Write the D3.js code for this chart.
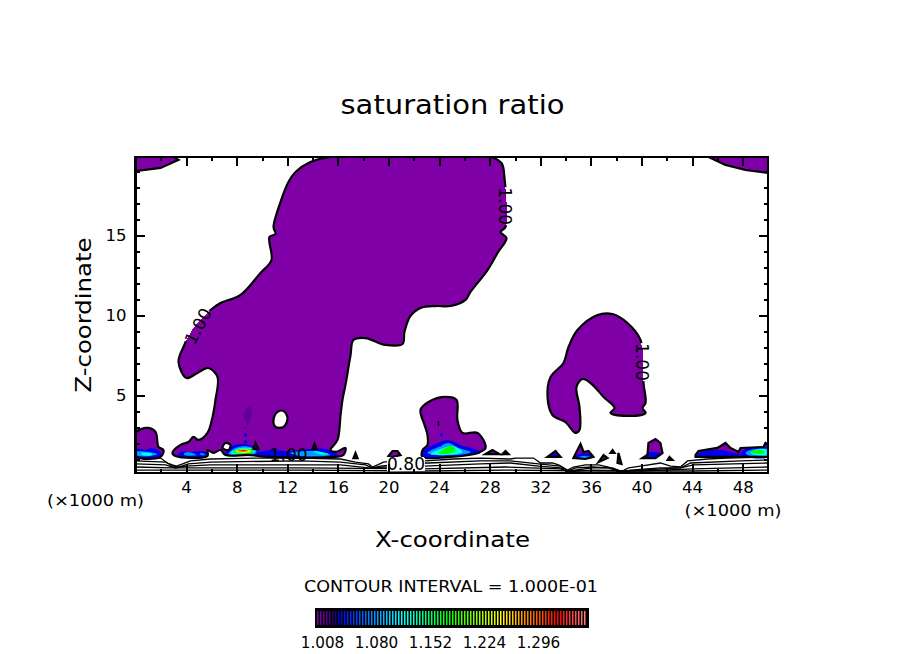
<!DOCTYPE html>
<html><head><meta charset="utf-8">
<script src="https://cdn.jsdelivr.net/npm/d3@7"></script>
<style>html,body{margin:0;padding:0;background:#fff}svg{display:block}text{font-family:"DejaVu Sans",sans-serif;fill:#000}</style>
</head><body><svg id="c" width="904" height="654"></svg>
<script>
// ---- data (x in km, z in km) ----
const xTicksMajor=[4,8,12,16,20,24,28,32,36,40,44,48];
const xTicksMinor=[2,6,10,14,18,22,26,30,34,38,42,46];
const zTicksMajor=[5,10,15];
const zTicksMinor=[1,2,3,4,6,7,8,9,11,12,13,14,16,17,18,19];
const colorbarLabels=[1.008,1.080,1.152,1.224,1.296];
const colorStops=[1.004,1.016,1.026,1.034,1.08,1.115,1.18,1.248,1.28,1.325,1.364];
const colorValues=["#8000a8","#5a0098","#200060","#0000f0","#0090ff","#00ffff","#00ff00","#ffff00","#ff9000","#ff0000","#ff8888"];

const mainBlob=[[15.41,19.88],[20,19.9],[24,19.9],[28.06,19.88],[28.93,19.5],[29.17,18.56],[29.25,15.5],[28.85,15.19],[29.33,14.81],[28.62,13.88],[27.83,12.81],[26.48,11.44],[26.09,10.94],[24.9,10.56],[23.72,10.56],[22.53,10.44],[21.74,9.94],[21.26,8.94],[21.11,8.19],[19.76,8.13],[18.18,8.56],[17.23,8.44],[17.0,7.5],[16.6,5.63],[16.36,4.69],[16.21,3.75],[15.97,2.19],[15.41,1.56],[15.81,1.44],[16.6,1.69],[16.44,1.25],[15.81,1.13],[10.43,1.13],[9.09,1.25],[7.11,1.25],[6.72,1.56],[6.17,1.38],[5.69,1.56],[5.69,1.19],[3.16,1.19],[2.92,1.38],[3.56,1.88],[4.19,2.06],[4.58,2.38],[4.98,2.19],[5.69,2.63],[6.09,3.63],[6.32,4.69],[6.48,6.13],[5.77,6.69],[4.9,6.38],[4.03,6.06],[3.4,7.06],[3.79,8.0],[4.58,9.19],[5.93,10.31],[6.72,10.75],[8.3,11.25],[9.88,12.63],[10.75,13.44],[10.59,14.88],[11.07,15.06],[10.91,15.5],[11.46,17.06],[12.09,18.31],[12.65,18.94],[13.83,19.56]];
const rightBlob=[[32.81,6.13],[33.83,7.0],[34.23,8.0],[34.94,9.06],[36.52,10.0],[37.71,10.06],[38.89,9.5],[39.92,8.44],[40.16,5.75],[40.32,4.5],[40.08,4.19],[40.32,3.88],[38.89,3.69],[37.55,3.88],[37.87,4.19],[37.0,4.88],[35.97,5.75],[35.34,6.0],[34.86,5.5],[35.1,4.25],[35.1,2.81],[34.78,2.63],[33.99,3.31],[32.96,3.75],[32.57,4.88]];
const midBlob=[[22.69,1.56],[23.08,1.88],[23.08,2.5],[22.85,3.13],[22.53,4.06],[23.16,4.56],[24.51,4.88],[25.38,4.69],[25.45,3.44],[25.85,2.63],[27.04,2.63],[27.67,1.69],[27.04,1.38],[24.9,1.13],[22.69,1.13]];
const leftBlob=[[0,1.19],[0,2.63],[0.95,2.94],[1.58,2.69],[1.82,1.75],[2.21,1.56],[1.98,1.13]];
const topLeft=[[0,19.88],[3.0,19.88],[3.4,19.69],[1.98,19.19],[0,19.0]];
const topRight=[[45.3,19.88],[46.64,19.38],[48.22,19.06],[50,18.88],[50,19.88]];
const smallBlobs=[
 [[20.0,1.19],[20.32,1.5],[20.71,1.5],[20.95,1.25],[20.39,1.13]],
 [[17.23,1.06],[17.39,1.38],[17.55,1.06]],
 [[27.67,1.31],[28.22,1.56],[28.77,1.31]],
 [[29.01,1.31],[29.25,1.5],[29.49,1.31]],
 [[32.57,1.13],[33.2,1.5],[33.6,1.13]],
 [[34.62,1.06],[35.18,1.94],[35.42,1.44],[35.81,1.5],[36.2,1.13],[35.57,1.0]],
 [[36.6,.81],[37.0,1.25],[37.31,1.06]],
 [[37.55,1.38],[37.71,1.56],[37.87,1.38]],
 [[38.1,.75],[38.18,1.38],[38.42,.69]],
 [[40.08,1.06],[40.47,1.25],[40.55,2.0],[41.11,2.25],[41.5,2.0],[41.66,1.38],[41.11,1.06]],
 [[42.06,.94],[42.21,1.13],[42.45,.94]],
 [[44.27,1.25],[44.51,1.5],[46.0,1.69],[46.64,2.0],[47.04,1.69],[47.67,1.44],[47.83,1.69],[49.64,1.75],[49.8,2.0],[50,1.88],[50,1.13],[44.27,1.13]],
 [[9.33,1.63],[9.49,2.0],[9.72,1.63]],
 [[14.0,1.63],[14.15,1.94],[14.31,1.63]]
];
const holes=[
 [[10.91,3.44],[11.23,3.94],[11.7,4.0],[12.02,3.56],[11.7,3.0],[11.07,3.0]],
 [[7.11,2.0],[7.51,1.88],[7.35,1.56],[6.88,1.69]]
];
const faintPatches=[[[8.62,3.44],[8.77,4.19],[9.09,4.25],[9.17,3.75],[8.93,3.31]]];
const bluePatches=[
 [[0,1.63],[.79,1.56],[1.19,1.69],[1.98,1.44],[1.98,1.19],[0,1.19]],
 [[3.32,1.25],[3.56,1.44],[4.51,1.44],[5.14,1.5],[5.69,1.38],[5.69,1.19],[3.32,1.19]],
 [[7.11,1.25],[7.51,1.75],[8.3,1.94],[9.25,1.81],[9.72,1.5],[10.28,1.25],[8.3,1.19]],
 [[9.72,1.38],[10.67,1.56],[12.25,1.5],[13.83,1.63],[15.02,1.63],[15.81,1.38],[16.05,1.19],[10.28,1.19]],
 [[22.69,1.44],[23.87,2.0],[24.74,2.19],[25.69,1.88],[27.04,1.56],[27.27,1.38],[25.3,1.19],[22.77,1.13]],
 [[32.65,1.13],[32.96,1.31],[33.44,1.31],[33.6,1.13]],
 [[34.7,1.06],[35.02,1.31],[35.97,1.31],[36.2,1.13],[35.57,1.0]],
 [[40.47,1.38],[41.11,1.44],[41.58,1.31],[41.11,1.06],[40.24,1.06]],
 [[44.35,1.19],[44.66,1.44],[46.24,1.56],[47.04,1.44],[47.98,1.25],[44.66,1.13]],
 [[47.83,1.31],[48.22,1.63],[50,1.69],[50,1.13],[48.22,1.13]]
];
const azurePatches=[
 [[0,1.44],[1.03,1.44],[1.74,1.31],[1.19,1.19],[0,1.25]],
 [[3.87,1.38],[4.51,1.38],[4.82,1.25],[3.87,1.25]],
 [[5.14,1.38],[5.53,1.25],[5.14,1.25]],
 [[7.35,1.31],[7.91,1.69],[9.09,1.75],[9.57,1.44],[9.25,1.25],[7.98,1.22]],
 [[12.25,1.38],[13.83,1.5],[14.62,1.44],[15.41,1.25],[13.04,1.19]],
 [[23.08,1.38],[23.95,1.75],[24.74,2.0],[25.53,1.69],[26.48,1.44],[25.45,1.25]],
 [[35.02,1.13],[35.34,1.19],[35.97,1.13],[35.49,1.06]],
 [[48.22,1.38],[48.77,1.59],[50,1.59],[50,1.19],[48.62,1.19]]
];
const cyanPatches=[
 [[.47,1.38],[1.34,1.31],[1.19,1.22],[.55,1.25]],
 [[7.51,1.38],[8.14,1.66],[9.25,1.63],[9.41,1.44],[7.98,1.28]],
 [[14.07,1.47],[14.47,1.47],[15.26,1.31],[14.94,1.25]],
 [[23.32,1.31],[24.35,1.69],[25.06,1.81],[25.85,1.44],[24.66,1.25]],
 [[48.62,1.38],[49.01,1.56],[50,1.56],[50,1.25],[49.01,1.25]]
];
const greenPatches=[
 [[7.67,1.44],[8.3,1.63],[9.25,1.56],[9.25,1.38],[8.14,1.34]],
 [[14.78,1.34],[15.18,1.31],[15.1,1.25]],
 [[23.95,1.38],[24.51,1.69],[25.06,1.81],[25.3,1.5],[24.66,1.31]],
 [[48.62,1.44],[48.9,1.53],[49.6,1.53],[49.7,1.38],[48.9,1.34]]
];
const yellowPatches=[[[7.91,1.47],[8.46,1.59],[9.09,1.53],[9.09,1.44],[8.14,1.41]]];
const redPatches=[[[8.06,1.5],[8.62,1.56],[8.93,1.5],[8.3,1.47]]];
const blueDots=[[8.7,2.5],[8.7,2.06],[24.19,2.5],[24.11,1.88]];
const faintDots=[[8.7,2.94],[8.85,3.2]];
const dashMark=[[23.95,3.38],[23.95,3.06]];

const lowLines=[
 [[0,1.06],[1.98,1.06],[2.53,.75],[2.92,.63],[3.24,.56],[3.72,.69],[4.35,.88],[5.93,1.0],[9.49,1.06],[13.04,1.06],[16.21,1.0],[17.39,.81],[18.42,.69],[18.73,.5],[19.13,.63],[19.6,.81],[20.55,.88],[22.92,.88],[25.14,1.0],[27.27,1.06],[29.64,1.0],[30.04,1.06],[31.46,1.06],[32.02,.75],[32.96,.75],[33.44,.63],[34.15,.31],[34.62,.5],[35.57,.63],[36.6,.63],[37.39,.5],[38.34,.19],[38.97,.44],[39.92,.56],[41.5,.75],[42.29,.56],[43.08,.5],[43.64,.88],[45.22,1.0],[46.8,1.06],[50,1.13]],
 [[0,.88],[2.37,.81],[2.92,.56],[3.4,.5],[4.19,.69],[5.93,.81],[13.04,.88],[16.21,.81],[18.18,.63],[18.73,.44],[19.37,.56],[20.95,.69],[23.16,.75],[27.27,.88],[29.64,.88],[31.86,.69],[33.6,.56],[34.15,.25],[34.78,.44],[36.13,.5],[37.39,.44],[38.34,.19],[39.13,.31],[41.5,.44],[43.08,.44],[43.88,.75],[47.83,.88],[50,.94]],
 [[0,.69],[2.37,.63],[3.16,.44],[3.95,.56],[5.93,.63],[16.21,.63],[18.42,.44],[19.76,.5],[22.77,.56],[27.27,.69],[29.64,.75],[31.86,.56],[33.6,.44],[34.23,.25],[36.13,.44],[37.71,.44],[38.5,.19],[39.92,.31],[43.08,.44],[44.11,.63],[50,.75]],
 [[0,.5],[2.77,.44],[13.04,.44],[22.77,.38],[29.25,.5],[33.6,.38],[34.23,.19],[36.13,.31],[39.92,.25],[44.11,.38],[50,.5]],
 [[0,.31],[13.04,.31],[22.77,.25],[29.25,.31],[36.68,.25],[44.11,.25],[50,.31]]
];
const contourLabels=[
 {t:"1.00",x:4.95,z:9.3,a:-62},
 {t:"1.00",x:29.2,z:16.8,a:90},
 {t:"1.00",x:40.0,z:7.06,a:90},
 {t:"1.00",x:12.1,z:1.25,a:0},
 {t:"0.80",x:21.38,z:.69,a:0}
];

// ---- drawing ----
const svg=d3.select("#c");
const x=d3.scaleLinear().domain([0,50]).range([135.5,768]);
const y=d3.scaleLinear().domain([0.125,19.875]).range([473,157]);
const col=d3.scaleLinear().domain(colorStops).range(colorValues);
const smooth=d3.line().x(d=>x(d[0])).y(d=>y(d[1])).curve(d3.curveCatmullRomClosed.alpha(.5));
const closed=d3.line().x(d=>x(d[0])).y(d=>y(d[1])).curve(d3.curveLinearClosed);
const open=d3.line().x(d=>x(d[0])).y(d=>y(d[1]));
const defs=svg.append("defs");
defs.append("clipPath").attr("id","plot").append("rect").attr("x",x(0)).attr("y",y.range()[1]).attr("width",x(50)-x(0)).attr("height",y.range()[0]-y.range()[1]);
const mask=defs.append("mask").attr("id","gaps").attr("maskUnits","userSpaceOnUse").attr("x",0).attr("y",0).attr("width",904).attr("height",654);
mask.append("rect").attr("width",904).attr("height",654).attr("fill","#fff");
contourLabels.forEach(l=>mask.append("rect").attr("x",-19).attr("y",-7).attr("width",38).attr("height",14).attr("fill",l.a==0&&l.t=="1.00"?"#fff":"#000").attr("transform",`translate(${x(l.x)},${y(l.z)}) rotate(${l.a})`));

const plot=svg.append("g").attr("clip-path","url(#plot)");
const bigs=[mainBlob,rightBlob,midBlob,leftBlob];
const corners=[topLeft,topRight,...smallBlobs];
const base=col(1.004);
plot.append("g").selectAll("path").data(bigs).join("path").attr("d",smooth).attr("fill",base).attr("shape-rendering","crispEdges");
plot.append("g").selectAll("path").data(corners).join("path").attr("d",closed).attr("fill",base).attr("shape-rendering","crispEdges");
[[faintPatches,1.014],[bluePatches,1.034],[azurePatches,1.085],[cyanPatches,1.118],[greenPatches,1.18],[yellowPatches,1.248],[redPatches,1.325]].forEach(([ps,v])=>{
  plot.append("g").selectAll("path").data(ps).join("path").attr("d",smooth).attr("fill",col(v));
});
plot.append("g").selectAll("circle").data(blueDots).join("circle").attr("cx",d=>x(d[0])).attr("cy",d=>y(d[1])).attr("r",1.7).attr("fill",col(1.034));
plot.append("g").selectAll("circle").data(faintDots).join("circle").attr("cx",d=>x(d[0])).attr("cy",d=>y(d[1])).attr("r",1.5).attr("fill",col(1.014));
plot.append("g").selectAll("path").data(holes).join("path").attr("d",smooth).attr("fill","#fff");

const strokes=plot.append("g").attr("mask","url(#gaps)").attr("fill","none").attr("stroke","#000");
strokes.append("g").attr("stroke-width",2.2).selectAll("path").data(bigs).join("path").attr("d",smooth);
strokes.append("g").attr("stroke-width",2.2).selectAll("path").data(corners).join("path").attr("d",closed);
strokes.append("g").attr("stroke-width",2.2).selectAll("path").data(holes).join("path").attr("d",smooth);
strokes.append("g").attr("stroke-width",1.3).selectAll("path").data(lowLines).join("path").attr("d",open);
strokes.append("path").attr("d",open(dashMark)).attr("stroke-width",1.5);

contourLabels.forEach(l=>svg.append("text").attr("text-anchor","middle").attr("font-size",17).attr("dy",6)
  .attr("transform",`translate(${x(l.x)},${y(l.z)}) rotate(${l.a})`).attr("textLength",38).text(l.t));

// axes
function axis(gen,tr,vals,size,labels,pad){
  const g=svg.append("g").attr("transform",tr).call(gen.tickValues(vals).tickSize(-size).tickPadding(pad).tickFormat(labels?d3.format("d"):""));
  g.select(".domain").attr("stroke","none");
  g.selectAll("line").attr("stroke","#000").attr("stroke-width",2).attr("shape-rendering","crispEdges");
  g.selectAll("text").attr("font-size",16.5).attr("fill","#000").style("font-family",'"DejaVu Sans",sans-serif');
}
const B=`translate(0,${y.range()[0]})`,T=`translate(0,${y.range()[1]})`,L=`translate(${x(0)},0)`,R=`translate(${x(50)},0)`;
axis(d3.axisBottom(x),B,xTicksMinor,4,false,0);
axis(d3.axisBottom(x),B,xTicksMajor,9,true,8);
axis(d3.axisTop(x),T,xTicksMinor,4,false,0);
axis(d3.axisTop(x),T,xTicksMajor,9,false,0);
axis(d3.axisLeft(y),L,zTicksMinor,4,false,0);
axis(d3.axisLeft(y),L,zTicksMajor,9,true,9);
axis(d3.axisRight(y),R,zTicksMinor,4,false,0);
axis(d3.axisRight(y),R,zTicksMajor,9,false,0);
svg.append("rect").attr("x",x(0)).attr("y",y.range()[1]).attr("width",x(50)-x(0)).attr("height",y.range()[0]-y.range()[1]).attr("fill","none").attr("stroke","#000").attr("stroke-width",2.5).attr("shape-rendering","crispEdges");

// text
function label(t,px,py,size,len,rot){
  const s=svg.append("text").attr("text-anchor","middle").attr("font-size",size).attr("textLength",len).attr("lengthAdjust","spacingAndGlyphs").text(t);
  s.attr("transform",`translate(${px},${py})`+(rot?` rotate(${rot})`:""));
}
label("saturation ratio",452.5,114,27,224);
label("X-coordinate",452.5,547,21,155);
label("Z-coordinate",91,315,21,155,-90);
label("(×1000 m)",95.5,506,16,97);
label("(×1000 m)",733,516,16,97);
label("CONTOUR INTERVAL = 1.000E-01",451,592,15.5,294);

// colour bar
const cb=d3.scaleLinear().domain([1.004,1.364]).range([317.5,587.5]);
const steps=d3.range(90).map(i=>1.004+i*0.004);
svg.append("rect").attr("x",cb.range()[0]-2.5).attr("y",608).attr("width",cb.range()[1]-cb.range()[0]+4).attr("height",20).attr("fill","#000");
svg.append("g").selectAll("rect").data(steps).join("rect").attr("x",d=>cb(d)-.5).attr("y",611).attr("width",1.5).attr("height",14).attr("fill",d=>col(d));
svg.append("g").selectAll("text").data(colorbarLabels).join("text").attr("text-anchor","middle").attr("font-size",15.2)
  .attr("x",d=>cb(d)+2).attr("y",648).text(d=>d.toFixed(3));
</script></body></html>
